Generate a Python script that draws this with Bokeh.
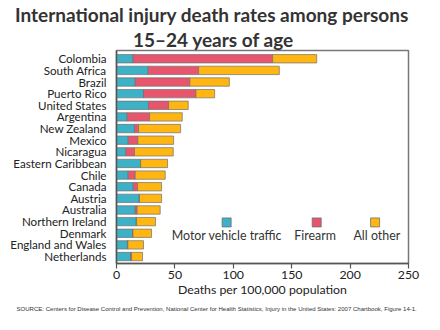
from bokeh.plotting import figure
from bokeh.models import ColumnDataSource, Range1d, FixedTicker, Label, Title
from bokeh.embed import file_html
from bokeh.resources import INLINE

countries = ["Colombia", "South Africa", "Brazil", "Puerto Rico", "United States",
             "Argentina", "New Zealand", "Mexico", "Nicaragua", "Eastern Caribbean",
             "Chile", "Canada", "Austria", "Australia", "Northern Ireland",
             "Denmark", "England and Wales", "Netherlands"]
motor = [14.2, 27.1, 16.0, 23.1, 27.4, 9.1, 15.4, 10.0, 8.0, 20.6,
         10.0, 14.3, 19.4, 16.0, 16.9, 13.7, 9.4, 12.0]
firearm = [119.5, 43.2, 46.8, 44.9, 17.2, 19.2, 3.5, 8.3, 7.4, 0.0,
           6.0, 3.7, 0.3, 1.7, 0.3, 0.4, 0.3, 0.9]
other = [37.7, 69.1, 33.8, 16.0, 16.8, 28.0, 36.0, 30.6, 33.2, 23.1,
         25.7, 20.6, 18.9, 19.7, 16.2, 15.9, 13.4, 9.4]
series = ["Motor vehicle traffic", "Firearm", "All other"]
colors = ["#3DB1C6", "#E8566D", "#FFB612"]
x_ticks = [0, 50, 100, 150, 200, 250]

n = len(countries)
ypos = [n - 1 - i for i in range(n)]

src = ColumnDataSource(dict(y=ypos, motor=motor, firearm=firearm, other=other))

FONT = "Lato"
p = figure(width=440, height=330, output_backend="svg", toolbar_location=None,
           x_range=Range1d(0, 250), y_range=Range1d(-0.6, n - 1 + 0.71),
           min_border_left=116, min_border_right=32, min_border_top=49,
           min_border_bottom=67)
p.background_fill_color = "white"
p.border_fill_color = "white"
p.outline_line_color = "#777777"
p.outline_line_width = 1.5
p.grid.visible = False

p.hbar_stack(["motor", "firearm", "other"], y="y", height=0.72, source=src,
             color=colors, line_color="#707070", line_width=0.7)

# y axis
p.yaxis.ticker = FixedTicker(ticks=ypos)
p.yaxis.major_label_overrides = {y: c for y, c in zip(ypos, countries)}
p.yaxis.major_tick_line_color = None
p.yaxis.minor_tick_line_color = None
p.yaxis.axis_line_color = "#555555"
p.yaxis.axis_line_width = 1.5
p.yaxis.major_label_text_font = FONT
p.yaxis.major_label_text_font_size = "11.6px"
p.yaxis.major_label_text_color = "#222222"
p.yaxis.major_label_standoff = 4

# x axis
p.xaxis.ticker = FixedTicker(ticks=x_ticks)
p.xaxis.minor_tick_line_color = None
p.xaxis.major_tick_in = 0
p.xaxis.major_tick_out = 5
p.xaxis.major_tick_line_color = "#555555"
p.xaxis.major_tick_line_width = 1.2
p.xaxis.axis_line_color = "#555555"
p.xaxis.axis_line_width = 1.5
p.xaxis.major_label_text_font = FONT
p.xaxis.major_label_text_font_size = "12.3px"
p.xaxis.major_label_text_color = "#222222"
p.xaxis.major_label_standoff = 2
p.xaxis.axis_label = "Deaths per 100,000 population"
p.xaxis.axis_label_text_font = FONT
p.xaxis.axis_label_text_font_size = "12.3px"
p.xaxis.axis_label_text_font_style = "normal"
p.xaxis.axis_label_text_color = "#222222"
p.xaxis.axis_label_standoff = 0

# legend (inside plot)
leg_sq_x = [94.3, 171.4, 221.4]
leg_txt_x = [94.5, 170.0, 222.9]
p.scatter(x=leg_sq_x, y=[2.93] * 3, marker="square", size=9,
          fill_color=colors, line_color="#707070", line_width=0.8)
for xx, t in zip(leg_txt_x, series):
    p.add_layout(Label(x=xx, y=1.8, text=t, text_font=FONT, text_font_size="12.4px",
                       text_color="#333333", text_align="center",
                       text_baseline="middle"))

# title: two lines, the one nearest the frame first
for t, off in [("15\u201324 years of age", 16.5),
               ("International injury death rates among persons", -101.5)]:
    p.add_layout(Title(text=t, align="left", offset=off, text_font=FONT,
                       text_font_size="19px", text_font_style="bold",
                       text_color="#333333", standoff=0), "above")

# source note
p.add_layout(Title(text="SOURCE: Centers for Disease Control and Prevention, National Center for Health Statistics, Injury in the United States: 2007 Chartbook, Figure 14-1.",
                   align="left", offset=-100, text_font="Liberation Sans",
                   text_font_size="6.05px", text_font_style="normal",
                   text_color="#333333", standoff=8), "below")

open("out.html", "w").write(file_html(p, INLINE))
